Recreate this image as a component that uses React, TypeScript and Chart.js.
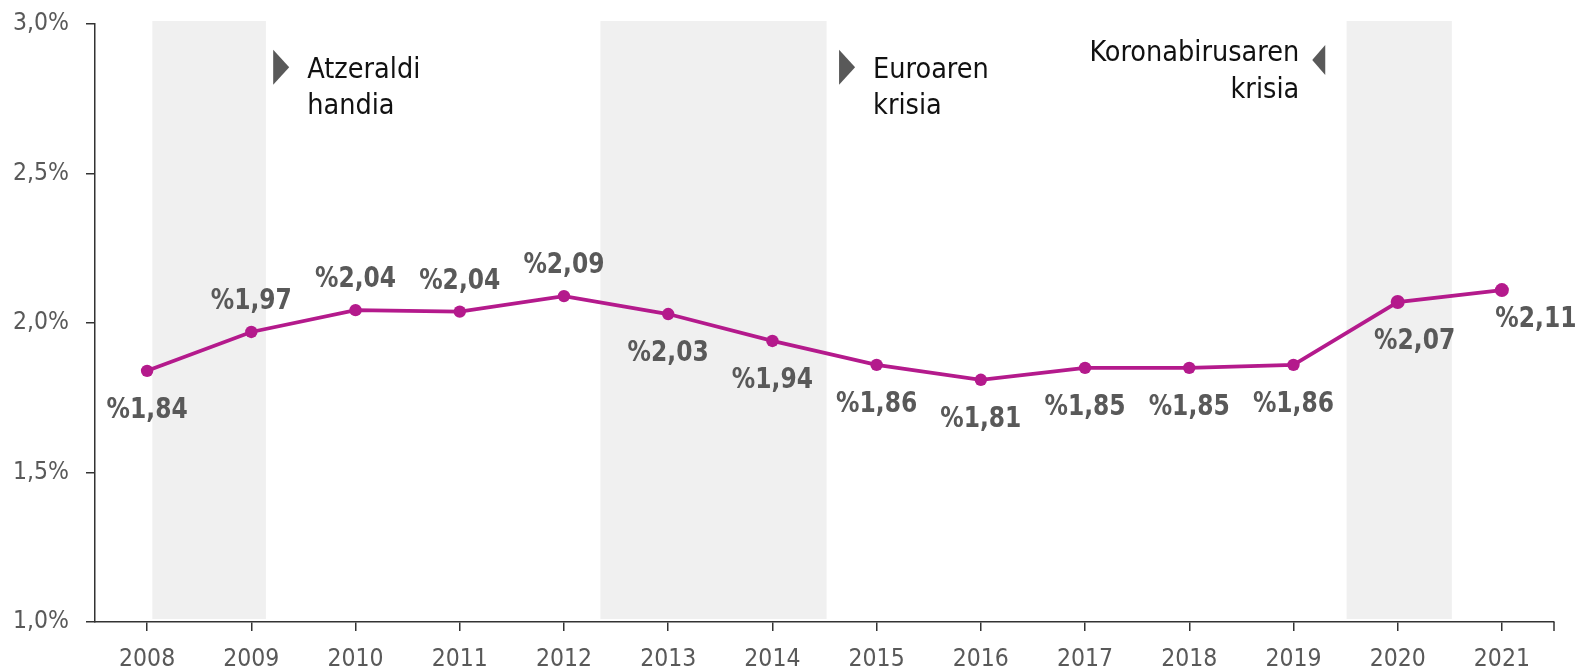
import React, { useEffect, useRef } from 'react';
import { Chart, registerables } from 'chart.js';

Chart.register(...registerables);

// ---- data ----
const years = ['2008', '2009', '2010', '2011', '2012', '2013', '2014', '2015', '2016', '2017', '2018', '2019', '2020', '2021'];
const shareValues = [1.84, 1.97, 2.043, 2.038, 2.09, 2.03, 1.94, 1.86, 1.81, 1.85, 1.85, 1.86, 2.07, 2.11];
const yTickValues = [1.0, 1.5, 2.0, 2.5, 3.0];
const labelSide = ['below', 'above', 'above', 'above', 'above', 'below', 'below', 'below', 'below', 'below', 'below', 'below', 'below', 'right'];

// crisis periods, in category-index units
const crisisStart = [0.05, 4.35, 11.51];
const crisisEnd = [1.14, 6.52, 12.52];
const crisisTop = 3.01;
const crisisBottom = 1.01;

// crisis notes
const noteLines = [['Atzeraldi', 'handia'], ['Euroaren', 'krisia'], ['Koronabirusaren', 'krisia']];
const noteAt = [1.21, 6.64, 11.18];
const noteLevel = [2.855, 2.855, 2.88];
const noteDir = ['right', 'right', 'left'];

const LINE_COLOR = '#B41A8C';
const AXIS_COLOR = '#333333';
const TEXT_GRAY = '#595959';
const FONT = "'DejaVu Sans Condensed', 'DejaVu Sans', sans-serif";

const fmtPct = (v: number) => '%' + v.toFixed(2).replace('.', ',');

const bandsPlugin = {
  id: 'bands',
  beforeDatasetsDraw(chart: any) {
    const { ctx, scales } = chart;
    const x = scales.x, y = scales.y;
    ctx.save();
    ctx.fillStyle = '#F0F0F0';
    for (let i = 0; i < crisisStart.length; i++) {
      const x0 = x.getPixelForValue(crisisStart[i]);
      const x1 = x.getPixelForValue(crisisEnd[i]);
      const y0 = y.getPixelForValue(crisisTop);
      const y1 = y.getPixelForValue(crisisBottom);
      ctx.fillRect(x0, y0, x1 - x0, y1 - y0);
    }
    ctx.restore();
  },
};

const labelsPlugin = {
  id: 'valueLabels',
  afterDatasetsDraw(chart: any) {
    const { ctx } = chart;
    const meta = chart.getDatasetMeta(0);
    ctx.save();
    ctx.font = `bold 26px ${FONT}`;
    ctx.fillStyle = TEXT_GRAY;
    ctx.textAlign = 'center';
    ctx.textBaseline = 'middle';
    meta.data.forEach((pt: any, i: number) => {
      const side = labelSide[i];
      let dx = 0, dy = 40;
      if (side === 'above') dy = -30;
      if (side === 'right') { dx = 34; dy = 30; }
      if (i === 12) dx = 17;
      ctx.save();
      ctx.translate(pt.x + dx, pt.y + dy);
      ctx.scale(1, 1.08);
      ctx.fillText(fmtPct(shareValues[i]), 0, 0);
      ctx.restore();
    });
    ctx.restore();
  },
};

const notesPlugin = {
  id: 'notes',
  afterDraw(chart: any) {
    const { ctx, scales } = chart;
    const x = scales.x, y = scales.y;
    ctx.save();
    ctx.font = `28.5px ${FONT}`;
    ctx.textBaseline = 'alphabetic';
    for (let i = 0; i < noteLines.length; i++) {
      const px = x.getPixelForValue(noteAt[i]);
      const py = y.getPixelForValue(noteLevel[i]);
      ctx.fillStyle = TEXT_GRAY;
      ctx.beginPath();
      if (noteDir[i] === 'right') {
        ctx.moveTo(px, py - 17.5);
        ctx.lineTo(px + 16, py);
        ctx.lineTo(px, py + 17.5);
        ctx.closePath();
        ctx.fill();
        ctx.fillStyle = '#111111';
        ctx.textAlign = 'left';
        noteLines[i].forEach((t, k) => ctx.fillText(t, px + 34, py + 11 + k * 35.5));
      } else {
        ctx.moveTo(px + 13, py - 15);
        ctx.lineTo(px, py);
        ctx.lineTo(px + 13, py + 15);
        ctx.closePath();
        ctx.fill();
        ctx.fillStyle = '#111111';
        ctx.textAlign = 'right';
        noteLines[i].forEach((t, k) => ctx.fillText(t, px - 13, py + 1 + k * 37));
      }
    }
    ctx.restore();
  },
};

const endTickPlugin = {
  id: 'endTick',
  afterDraw(chart: any) {
    const { ctx, chartArea } = chart;
    ctx.save();
    ctx.strokeStyle = AXIS_COLOR;
    ctx.lineWidth = 1.5;
    ctx.beginPath();
    ctx.moveTo(chartArea.right, chartArea.bottom);
    ctx.lineTo(chartArea.right, chartArea.bottom + 9);
    ctx.stroke();
    ctx.restore();
  },
};

export default function App() {
  const canvasRef = useRef<HTMLCanvasElement | null>(null);

  useEffect(() => {
    if (!canvasRef.current) return;
    const chart = new Chart(canvasRef.current, {
      type: 'line',
      data: {
        labels: years,
        datasets: [
          {
            data: shareValues,
            borderColor: LINE_COLOR,
            backgroundColor: LINE_COLOR,
            borderWidth: 3.8,
            pointRadius: shareValues.map((_, i) => (i >= 12 ? 7 : 6.2)),
            pointBackgroundColor: LINE_COLOR,
            pointBorderWidth: 0,
            tension: 0,
            fill: false,
          },
        ],
      },
      options: {
        animation: false,
        responsive: true,
        maintainAspectRatio: false,
        devicePixelRatio: 1,
        layout: { padding: { top: 24, right: 22, left: 0, bottom: 0 } },
        plugins: {
          legend: { display: false },
          tooltip: { enabled: false },
        },
        scales: {
          x: {
            type: 'category',
            offset: true,
            grid: { drawOnChartArea: false, tickLength: 9, color: AXIS_COLOR, lineWidth: 1.5, offset: false },
            border: { color: AXIS_COLOR, width: 1.5 },
            ticks: { color: TEXT_GRAY, font: { family: FONT, size: 24.5 }, padding: 14, maxRotation: 0 },
            afterFit: (s: any) => { s.height = 48; },
          },
          y: {
            min: 1,
            max: 3,
            grid: { drawOnChartArea: false, tickLength: 9, color: AXIS_COLOR, lineWidth: 1.5 },
            border: { color: AXIS_COLOR, width: 1.5 },
            ticks: {
              color: TEXT_GRAY,
              font: { family: FONT, size: 24.5 },
              padding: 17,
              callback: (v: any) => Number(v).toFixed(1).replace('.', ',') + '%',
            },
            afterBuildTicks: (s: any) => { s.ticks = yTickValues.map((v) => ({ value: v })); },
            afterFit: (s: any) => { s.width = 95; s.paddingTop = 0; s.paddingBottom = 0; },
          },
        },
      },
      plugins: [bandsPlugin, labelsPlugin, notesPlugin, endTickPlugin],
    } as any);
    return () => chart.destroy();
  }, []);

  return (
    <div style={{ position: 'fixed', left: 0, top: 0, width: 1576, height: 670 }}>
      <canvas ref={canvasRef} />
    </div>
  );
}
